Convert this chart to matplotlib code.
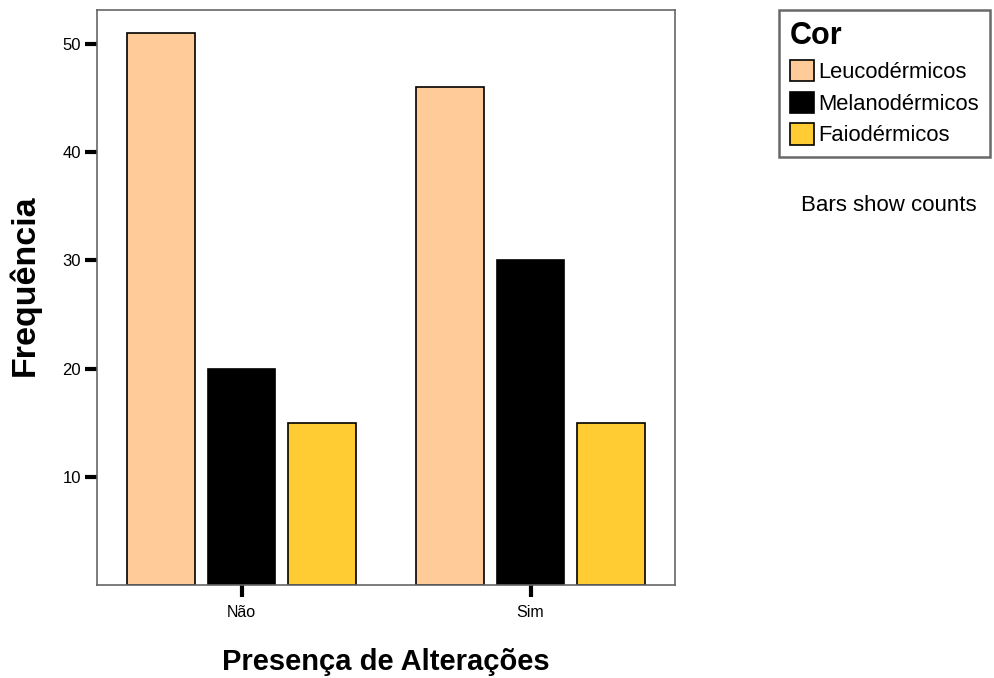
import numpy as np
import matplotlib
matplotlib.use('Agg')
import matplotlib.pyplot as plt
from matplotlib.patches import Patch

plt.rcParams['font.family'] = ['Liberation Sans', 'DejaVu Sans']

### data
groups = ['Não', 'Sim']
series = ['Leucodérmicos', 'Melanodérmicos', 'Faiodérmicos']
counts = {
    'Leucodérmicos': [51, 46],
    'Melanodérmicos': [20, 30],
    'Faiodérmicos': [15, 15],
}
colors = ['#FFCC99', '#000000', '#FFCC33']
yticks = [10, 20, 30, 40, 50]

### plot
fig = plt.figure(figsize=(9.94, 6.78), dpi=100)
ax = fig.add_axes([0.0976, 0.137, 0.5815, 0.848])

x = np.arange(len(groups))
width = 0.235
offset = 0.28
for i, name in enumerate(series):
    ax.bar(x + (i - 1) * offset, counts[name], width, color=colors[i],
           edgecolor='black', linewidth=1.2, label=name)

ax.set_xlim(-0.5, 1.5)
ax.set_ylim(0, 53.1)
ax.set_xticks(x)
ax.set_xticklabels(groups, fontsize=11.5)
ax.set_yticks(yticks)
ax.set_yticklabels([str(t) for t in yticks], fontsize=12)
ax.tick_params(axis='both', direction='out', length=8.5, width=3, color='black', pad=3)
ax.tick_params(axis='x', pad=6)
for s in ax.spines.values():
    s.set_color('#666666')
    s.set_linewidth(1.2)

ax.set_ylabel('Frequência', fontsize=24.5, fontweight='bold')
ax.yaxis.set_label_coords(-0.097, 0.522)
ax.set_xlabel('Presença de Alterações', fontsize=21, fontweight='bold', labelpad=20)

handles = [Patch(facecolor=c, edgecolor='black', linewidth=1.2) for c in colors]
leg = fig.legend(handles, series, title='Cor', loc='upper left',
                 bbox_to_anchor=(0.7837, 0.985), fontsize=15.8,
                 title_fontproperties={'weight': 'bold', 'size': 22},
                 frameon=True, fancybox=False, edgecolor='#444444',
                 handlelength=1.1, handleheight=1.1, handletextpad=0.2,
                 labelspacing=0.4, borderpad=0.5, borderaxespad=0)
leg._legend_box.align = 'left'
leg.get_frame().set_linewidth(1.8)

fig.text(0.894, 0.697, 'Bars show counts', ha='center', va='center', fontsize=16)

plt.savefig('out.png', dpi=100)
plt.close()
